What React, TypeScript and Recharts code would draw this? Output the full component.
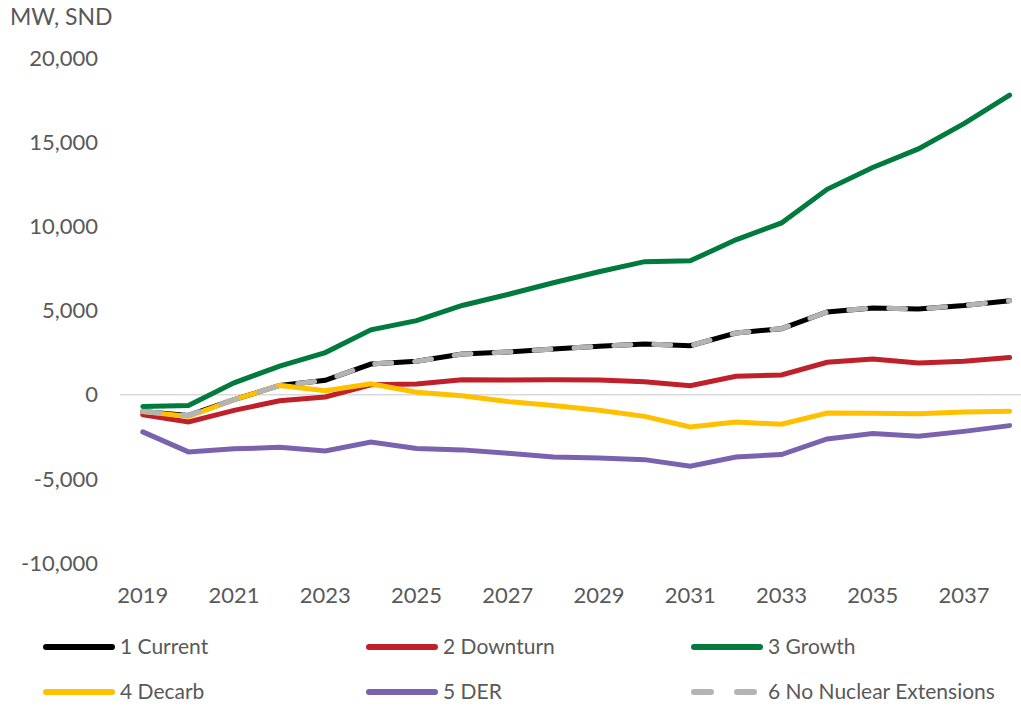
import React from 'react';
import { LineChart, Line, XAxis, YAxis, Legend, ReferenceLine } from 'recharts';

const years = [2019, 2020, 2021, 2022, 2023, 2024, 2025, 2026, 2027, 2028, 2029, 2030, 2031, 2032, 2033, 2034, 2035, 2036, 2037, 2038];
const current = [-1000, -1230, -300, 550, 850, 1820, 1980, 2410, 2530, 2710, 2870, 3010, 2910, 3660, 3920, 4910, 5150, 5090, 5300, 5580];
const downturn = [-1190, -1620, -930, -360, -140, 590, 640, 890, 870, 890, 870, 770, 530, 1090, 1170, 1920, 2120, 1880, 1980, 2210];
const growth = [-700, -650, 700, 1700, 2500, 3850, 4400, 5300, 5950, 6650, 7300, 7900, 7950, 9200, 10200, 12200, 13500, 14600, 16100, 17800];
const decarb = [-1000, -1300, -300, 550, 240, 650, 140, -60, -400, -640, -930, -1290, -1920, -1620, -1760, -1090, -1110, -1130, -1030, -990];
const der = [-2210, -3400, -3220, -3130, -3340, -2810, -3200, -3280, -3480, -3700, -3760, -3860, -4250, -3700, -3560, -2630, -2310, -2470, -2180, -1840];
const noNuclear = [-1000, -1230, -300, 550, 850, 1820, 1980, 2410, 2530, 2710, 2870, 3010, 2910, 3660, 3920, 4910, 5150, 5090, 5300, 5580];

const xTicks = [2019, 2021, 2023, 2025, 2027, 2029, 2031, 2033, 2035, 2037];
const yTicks = [-10000, -5000, 0, 5000, 10000, 15000, 20000];

const data = years.map((year, i) => ({
  year,
  current: current[i],
  downturn: downturn[i],
  growth: growth[i],
  decarb: decarb[i],
  der: der[i],
  noNuclear: noNuclear[i],
}));

const FONT = 'Lato, "Open Sans", sans-serif';
const TEXT = '#595959';

const legendItems = [
  { name: '1 Current', color: '#000000', dashed: false, x: 43, y: 22 },
  { name: '2 Downturn', color: '#C0202A', dashed: false, x: 366, y: 22 },
  { name: '3 Growth', color: '#007A3D', dashed: false, x: 691, y: 22 },
  { name: '4 Decarb', color: '#FFC000', dashed: false, x: 43, y: 67 },
  { name: '5 DER', color: '#7B62AE', dashed: false, x: 366, y: 67 },
  { name: '6 No Nuclear Extensions', color: '#B4B4B4', dashed: true, x: 691, y: 67 },
];

const renderLegend = () => (
  <svg width={1021} height={84} style={{ display: 'block' }}>
    {legendItems.map((it) => (
      <g key={it.name}>
        {it.dashed ? (
          <>
            <line x1={it.x + 3} x2={it.x + 20} y1={it.y} y2={it.y} stroke={it.color} strokeWidth={6} strokeLinecap="round" />
            <line x1={it.x + 46} x2={it.x + 63} y1={it.y} y2={it.y} stroke={it.color} strokeWidth={6} strokeLinecap="round" />
          </>
        ) : (
          <line x1={it.x + 3} x2={it.x + 69} y1={it.y} y2={it.y} stroke={it.color} strokeWidth={6} strokeLinecap="round" />
        )}
        <text x={it.x + 77} y={it.y} dy="0.35em" fill={TEXT} fontSize={21} fontFamily={FONT}>
          {it.name}
        </text>
      </g>
    ))}
  </svg>
);

export default function App() {
  return (
    <div style={{ position: 'absolute', left: 0, top: 0, width: 1021, height: 709, background: '#fff' }}>
      <LineChart width={1021} height={709} data={data} margin={{ top: 58, right: 0, bottom: 0, left: 0 }}>
        <XAxis
          dataKey="year"
          type="number"
          domain={[2018.5, 2038.25]}
          ticks={xTicks}
          axisLine={false}
          tickLine={false}
          tickSize={0}
          tickMargin={24}
          height={62}
          tick={{ fill: TEXT, fontSize: 22, fontFamily: FONT }}
        />
        <YAxis
          type="number"
          domain={[-10000, 20000]}
          ticks={yTicks}
          axisLine={false}
          tickLine={false}
          tickSize={0}
          tickMargin={22}
          width={120}
          tickFormatter={(v: number) => v.toLocaleString('en-US')}
          tick={{ fill: TEXT, fontSize: 22, fontFamily: FONT }}
          label={{
            content: () => (
              <text x={10} y={25} fill={TEXT} fontSize={23} fontFamily={FONT}>
                MW, SND
              </text>
            ),
          }}
        />
        <ReferenceLine y={0} stroke="#D9D9D9" strokeWidth={1.5} />
        <Legend verticalAlign="bottom" content={renderLegend} />
        <Line dataKey="current" name="1 Current" stroke="#000000" strokeWidth={5} strokeLinecap="round" dot={false} isAnimationActive={false} />
        <Line dataKey="downturn" name="2 Downturn" stroke="#C0202A" strokeWidth={5} strokeLinecap="round" dot={false} isAnimationActive={false} />
        <Line dataKey="growth" name="3 Growth" stroke="#007A3D" strokeWidth={5} strokeLinecap="round" dot={false} isAnimationActive={false} />
        <Line dataKey="decarb" name="4 Decarb" stroke="#FFC000" strokeWidth={5} strokeLinecap="round" dot={false} isAnimationActive={false} />
        <Line dataKey="der" name="5 DER" stroke="#7B62AE" strokeWidth={5} strokeLinecap="round" dot={false} isAnimationActive={false} />
        <Line dataKey="noNuclear" name="6 No Nuclear Extensions" stroke="#B4B4B4" strokeWidth={5} strokeLinecap="round" strokeDasharray="17 23" dot={false} isAnimationActive={false} />
      </LineChart>
    </div>
  );
}
